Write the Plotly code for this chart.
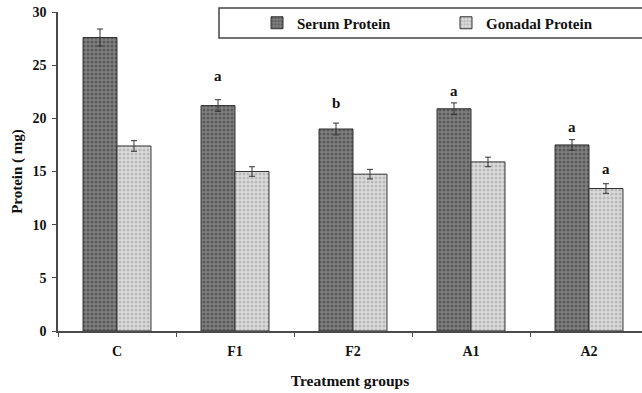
import plotly.graph_objects as go

# Treatment groups and measured protein (mg)
groups = ["C", "F1", "F2", "A1", "A2"]
serum = [27.6, 21.2, 19.0, 20.9, 17.5]
serum_err = [0.8, 0.55, 0.55, 0.55, 0.5]
gonadal = [17.4, 15.0, 14.75, 15.9, 13.4]
gonadal_err = [0.5, 0.45, 0.45, 0.45, 0.45]

# Significance letters: (group index, series, letter, height)
sig_groups = [1, 2, 3, 4, 4]
sig_series = ["serum", "serum", "serum", "serum", "gonadal"]
sig_letters = ["a", "b", "a", "a", "a"]
sig_heights = [24.0, 21.4, 22.6, 19.2, 15.2]

FONT = "Liberation Serif, Times New Roman, serif"
AXIS = "#4a4a4a"

fig = go.Figure()
fig.add_trace(go.Bar(
    name="Serum Protein", x=groups, y=serum,
    error_y=dict(type="data", array=serum_err, color="#333", thickness=1, width=3),
    marker=dict(color="#777777", line=dict(color="#333", width=1),
                pattern=dict(shape=".", fgcolor="#333333", bgcolor="#808080",
                             size=4, solidity=0.45)),
))
fig.add_trace(go.Bar(
    name="Gonadal Protein", x=groups, y=gonadal,
    error_y=dict(type="data", array=gonadal_err, color="#333", thickness=1, width=3),
    marker=dict(color="#cccccc", line=dict(color="#333", width=1),
                pattern=dict(shape=".", fgcolor="#939393", bgcolor="#dcdcdc",
                             size=4, solidity=0.45)),
))

offset = 0.144
for gi, s, letter, h in zip(sig_groups, sig_series, sig_letters, sig_heights):
    fig.add_annotation(x=gi + (-offset if s == "serum" else offset), y=h,
                       xref="x", yref="y", text=letter, showarrow=False,
                       font=dict(family=FONT, size=15, color="#111", weight=700))

# Legend frame (runs off the right edge)
fig.add_shape(type="rect", xref="paper", yref="paper",
              x0=(219 - 58) / 584, x1=1.05, y0=(331 - 38) / 319, y1=(331 - 8) / 319,
              line=dict(color="#444", width=1.5), fillcolor="white", layer="below")

fig.update_layout(
    width=642, height=393,
    margin=dict(l=58, r=0, t=12, b=62),
    paper_bgcolor="white", plot_bgcolor="white",
    barmode="group", bargap=0.424, bargroupgap=0,
    font=dict(family=FONT, size=14, color="#111", weight=700),
    showlegend=True,
    legend=dict(orientation="h", x=(257 - 58) / 584, y=(331 - 23) / 319,
                xanchor="left", yanchor="middle", bgcolor="rgba(0,0,0,0)",
                font=dict(family=FONT, size=15, color="#111", weight=700),
                entrywidth=144, entrywidthmode="pixels",
                itemwidth=30, traceorder="normal"),
    xaxis=dict(range=[-0.5, -0.5 + 584 / 118], showline=True, linecolor=AXIS,
               linewidth=1.5, ticks="outside", tickson="boundaries",
               ticklen=4, tickcolor=AXIS, showgrid=False, ticklabelstandoff=6,
               title=dict(text="Treatment groups", standoff=18,
                          font=dict(family=FONT, size=15.5, weight=700)),
               tickfont=dict(family=FONT, size=14, weight=700)),
    yaxis=dict(range=[0, 30], dtick=5, showline=True, linecolor=AXIS,
               linewidth=1.5, ticks="outside", ticklen=4, tickcolor=AXIS,
               showgrid=False, zeroline=False, ticklabelstandoff=3,
               title=dict(text="Protein ( mg)", standoff=6,
                          font=dict(family=FONT, size=15, weight=700)),
               tickfont=dict(family=FONT, size=14, weight=700)),
)

fig.write_html("out.html")
